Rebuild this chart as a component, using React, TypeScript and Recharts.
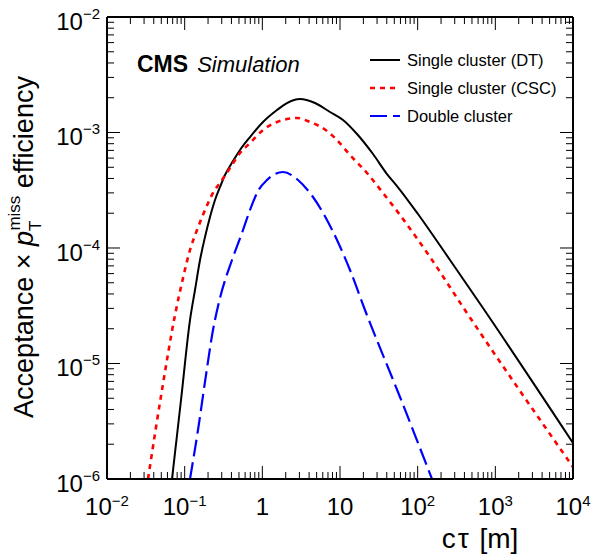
import React from 'react';
import { LineChart, Line, XAxis, YAxis, Legend, Customized } from 'recharts';

const FONT = '"Liberation Sans", Arial, Helvetica, sans-serif';

// Single cluster (DT)
const dtCtau = [0.0687, 0.0897, 0.1171, 0.1358, 0.1576, 0.1827, 0.2119, 0.2458, 0.285, 0.3305, 0.419, 0.516, 0.6938, 1.02, 1.544, 2.077, 3.054, 4.764, 7.43, 10.93, 16.55, 26.6, 40.27, 54.17, 100.9, 260.7, 693.5, 10000];
const dtEff = [1e-6, 4.83e-6, 2.379e-5, 4.33e-5, 7.87e-5, 1.245e-4, 1.855e-4, 2.603e-4, 3.374e-4, 4.285e-4, 5.66e-4, 7.06e-4, 9.14e-4, 1.233e-3, 1.566e-3, 1.8e-3, 1.95e-3, 1.8e-3, 1.505e-3, 1.283e-3, 9.7e-4, 6.51e-4, 4.37e-4, 3.44e-4, 1.97e-4, 7.87e-5, 3.02e-5, 2.05e-6];

// Single cluster (CSC)
const cscCtau = [0.03372, 0.05105, 0.0751, 0.0952, 0.1171, 0.1442, 0.1827, 0.2316, 0.3024, 0.3834, 0.516, 0.6938, 1.02, 1.544, 2.077, 2.794, 4.108, 6.8, 8.62, 13.45, 22.26, 35.77, 59.19, 144.1, 383.2, 10000];
const cscEff = [1e-6, 5.9e-6, 2.63e-5, 5.5e-5, 9.61e-5, 1.431e-4, 2.133e-4, 2.994e-4, 3.88e-4, 4.93e-4, 6.65e-4, 8.11e-4, 1.051e-3, 1.233e-3, 1.309e-3, 1.335e-3, 1.233e-3, 1.031e-3, 8.96e-4, 6.39e-4, 4.46e-4, 2.994e-4, 1.931e-4, 8.36e-5, 3.08e-5, 1.27e-6];

// Double cluster
const dcCtau = [0.1171, 0.1484, 0.1882, 0.2316, 0.285, 0.4068, 0.5472, 0.6938, 0.8793, 1.148, 1.845, 2.877, 4.489, 9.146, 13.45, 20.97, 59.19, 152.9];
const dcEff = [1e-6, 2.655e-6, 7.95e-6, 1.95e-5, 3.69e-5, 7.87e-5, 1.349e-4, 2.133e-4, 3.114e-4, 3.88e-4, 4.55e-4, 3.88e-4, 2.764e-4, 1.173e-4, 6.45e-5, 2.905e-5, 5.13e-6, 1e-6];

const seriesNames = ['Single cluster (DT)', 'Single cluster (CSC)', 'Double cluster'];

const xMajorTicks = [0.01, 0.1, 1, 10, 100, 1000, 10000];
const xTickBase = ['10', '10', '1', '10', '10', '10', '10'];
const xTickExp = ['\u22122', '\u22121', '', '', '2', '3', '4'];
const yMajorTicks = [1e-6, 1e-5, 1e-4, 1e-3, 1e-2];
const yTickExp = ['\u22126', '\u22125', '\u22124', '\u22123', '\u22122'];
const minorMultipliers = [2, 3, 4, 5, 6, 7, 8, 9];

const xMinorTicks = xMajorTicks.slice(0, -1).flatMap((d) => minorMultipliers.map((m) => m * d));
const yMinorTicks = yMajorTicks.slice(0, -1).flatMap((d) => minorMultipliers.map((m) => m * d));

const makeSeries = (xs: number[], ys: number[]) => xs.map((ct, i) => ({ ct, eff: ys[i] }));
const dtData = makeSeries(dtCtau, dtEff);
const cscData = makeSeries(cscCtau, cscEff);
const dcData = makeSeries(dcCtau, dcEff);

const styles = [
  { color: '#000000', width: 2, dash: undefined as string | undefined },
  { color: '#ff0000', width: 2.6, dash: '5 5' },
  { color: '#0000ff', width: 2.2, dash: '17 6' },
];

const X_DOMAIN: [number, number] = [0.01, 10000];
const Y_DOMAIN: [number, number] = [1e-6, 1e-2];
const THIN = 0.01;

const EmptyTick = () => <g />;

const XTick = (props: any) => {
  const { x, y, payload } = props;
  const idx = xMajorTicks.findIndex((v) => Math.abs(v - payload.value) < v * 1e-6);
  const base = idx >= 0 ? xTickBase[idx] : String(payload.value);
  const exp = idx >= 0 ? xTickExp[idx] : '';
  return (
    <text x={x} y={y + 36} textAnchor="middle" fontSize={24} fontFamily={FONT} fill="#000">
      {base}
      {exp ? <tspan dy={-9} fontSize={15}>{exp}</tspan> : null}
    </text>
  );
};

const YTick = (props: any) => {
  const { x, y, payload } = props;
  const idx = yMajorTicks.findIndex((v) => Math.abs(v - payload.value) < v * 1e-6);
  const exp = idx >= 0 ? yTickExp[idx] : '';
  return (
    <text x={x} y={y + 13} textAnchor="end" fontSize={24} fontFamily={FONT} fill="#000">
      10
      <tspan dy={-11} fontSize={15}>{exp}</tspan>
    </text>
  );
};

const LegendBox = () => (
  <svg width={220} height={90} style={{ display: 'block', overflow: 'visible' }}>
    {seriesNames.map((name, i) => (
      <g key={name}>
        <line
          x1={5}
          x2={35}
          y1={15 + i * 28}
          y2={15 + i * 28}
          stroke={styles[i].color}
          strokeWidth={styles[i].width}
          strokeDasharray={styles[i].dash}
        />
        <text x={42} y={15 + i * 28 + 5.5} fontSize={16.5} fontFamily={FONT} fill="#000">
          {name}
        </text>
      </g>
    ))}
  </svg>
);

const Annotations = () => (
  <g fontFamily={FONT} fill="#000">
    <text x={137} y={72} fontSize={23}>
      <tspan fontWeight="bold">CMS</tspan>
      <tspan dx={9} fontStyle="italic" fontSize={22}>Simulation</tspan>
    </text>
    <text x={480} y={548} fontSize={28} textAnchor="middle">
      c
      <tspan dx={2}>{'\u03c4'}</tspan>
      <tspan dx={3}>{' [m]'}</tspan>
    </text>
    <text transform="translate(33,247) rotate(-90)" fontSize={27} textAnchor="middle">
      {'Acceptance \u00d7 '}
      <tspan fontStyle="italic">p</tspan>
      <tspan dy={8} fontSize={17}>T</tspan>
      <tspan dx={-10} dy={-21} fontSize={17}>miss</tspan>
      <tspan dy={13}>{' efficiency'}</tspan>
    </text>
  </g>
);

const frameLine = { stroke: '#000', strokeWidth: 2 };
const tickLineStyle = { stroke: '#000', strokeWidth: 1 };

export default function App() {
  return (
    <div style={{ position: 'absolute', left: 0, top: 0, width: 600, height: 554, background: '#fff' }}>
      <LineChart width={600} height={554} margin={{ top: 17, right: 27, bottom: 75, left: 107 }}>
        {/* bottom */}
        <XAxis xAxisId="bMinor" orientation="bottom" type="number" scale="log" dataKey="ct" domain={X_DOMAIN} allowDataOverflow ticks={xMinorTicks} interval={0} height={THIN} mirror tickSize={7} tick={EmptyTick} tickLine={tickLineStyle} axisLine={false} />
        <XAxis xAxisId="bMajor" orientation="bottom" type="number" scale="log" dataKey="ct" domain={X_DOMAIN} allowDataOverflow ticks={xMajorTicks} interval={0} height={THIN} mirror tickSize={13} tick={EmptyTick} tickLine={tickLineStyle} axisLine={false} />
        {/* top */}
        <XAxis xAxisId="tMinor" orientation="top" type="number" scale="log" dataKey="ct" domain={X_DOMAIN} allowDataOverflow ticks={xMinorTicks} interval={0} height={THIN} mirror tickSize={7} tick={EmptyTick} tickLine={tickLineStyle} axisLine={false} />
        <XAxis xAxisId="tMajor" orientation="top" type="number" scale="log" dataKey="ct" domain={X_DOMAIN} allowDataOverflow ticks={xMajorTicks} interval={0} height={THIN} mirror tickSize={13} tick={EmptyTick} tickLine={tickLineStyle} axisLine={frameLine} />
        {/* left */}
        <YAxis yAxisId="lMinor" orientation="left" type="number" scale="log" domain={Y_DOMAIN} allowDataOverflow ticks={yMinorTicks} interval={0} width={THIN} mirror tickSize={7} tick={EmptyTick} tickLine={tickLineStyle} axisLine={false} />
        <YAxis yAxisId="lMajor" orientation="left" type="number" scale="log" domain={Y_DOMAIN} allowDataOverflow ticks={yMajorTicks} interval={0} width={THIN} mirror tickSize={13} tick={EmptyTick} tickLine={tickLineStyle} axisLine={false} />
        {/* right */}
        <YAxis yAxisId="rMinor" orientation="right" type="number" scale="log" domain={Y_DOMAIN} allowDataOverflow ticks={yMinorTicks} interval={0} width={THIN} mirror tickSize={7} tick={EmptyTick} tickLine={tickLineStyle} axisLine={false} />
        <YAxis yAxisId="rMajor" orientation="right" type="number" scale="log" domain={Y_DOMAIN} allowDataOverflow ticks={yMajorTicks} interval={0} width={THIN} mirror tickSize={13} tick={EmptyTick} tickLine={tickLineStyle} axisLine={frameLine} />
        {/* main label axes */}
        <XAxis xAxisId="main" orientation="bottom" type="number" scale="log" dataKey="ct" domain={X_DOMAIN} allowDataOverflow ticks={xMajorTicks} interval={0} height={THIN} tickSize={0} tickMargin={0} tick={XTick} tickLine={false} axisLine={frameLine} />
        <YAxis yAxisId="main" orientation="left" type="number" scale="log" domain={Y_DOMAIN} allowDataOverflow ticks={yMajorTicks} interval={0} width={THIN} tickSize={0} tickMargin={7} tick={YTick} tickLine={false} axisLine={frameLine} />

        <Line xAxisId="main" yAxisId="main" data={dtData} dataKey="eff" name={seriesNames[0]} type="monotone" stroke={styles[0].color} strokeWidth={styles[0].width} dot={false} activeDot={false} isAnimationActive={false} />
        <Line xAxisId="main" yAxisId="main" data={cscData} dataKey="eff" name={seriesNames[1]} type="monotone" stroke={styles[1].color} strokeWidth={styles[1].width} strokeDasharray={styles[1].dash} dot={false} activeDot={false} isAnimationActive={false} />
        <Line xAxisId="main" yAxisId="main" data={dcData} dataKey="eff" name={seriesNames[2]} type="monotone" stroke={styles[2].color} strokeWidth={styles[2].width} strokeDasharray={styles[2].dash} dot={false} activeDot={false} isAnimationActive={false} />

        <Legend layout="vertical" verticalAlign="middle" align="center" content={() => <LegendBox />} wrapperStyle={{ position: 'absolute', left: 365, top: 45, width: 220, height: 90 }} />
        <Customized component={Annotations} />
      </LineChart>
    </div>
  );
}
